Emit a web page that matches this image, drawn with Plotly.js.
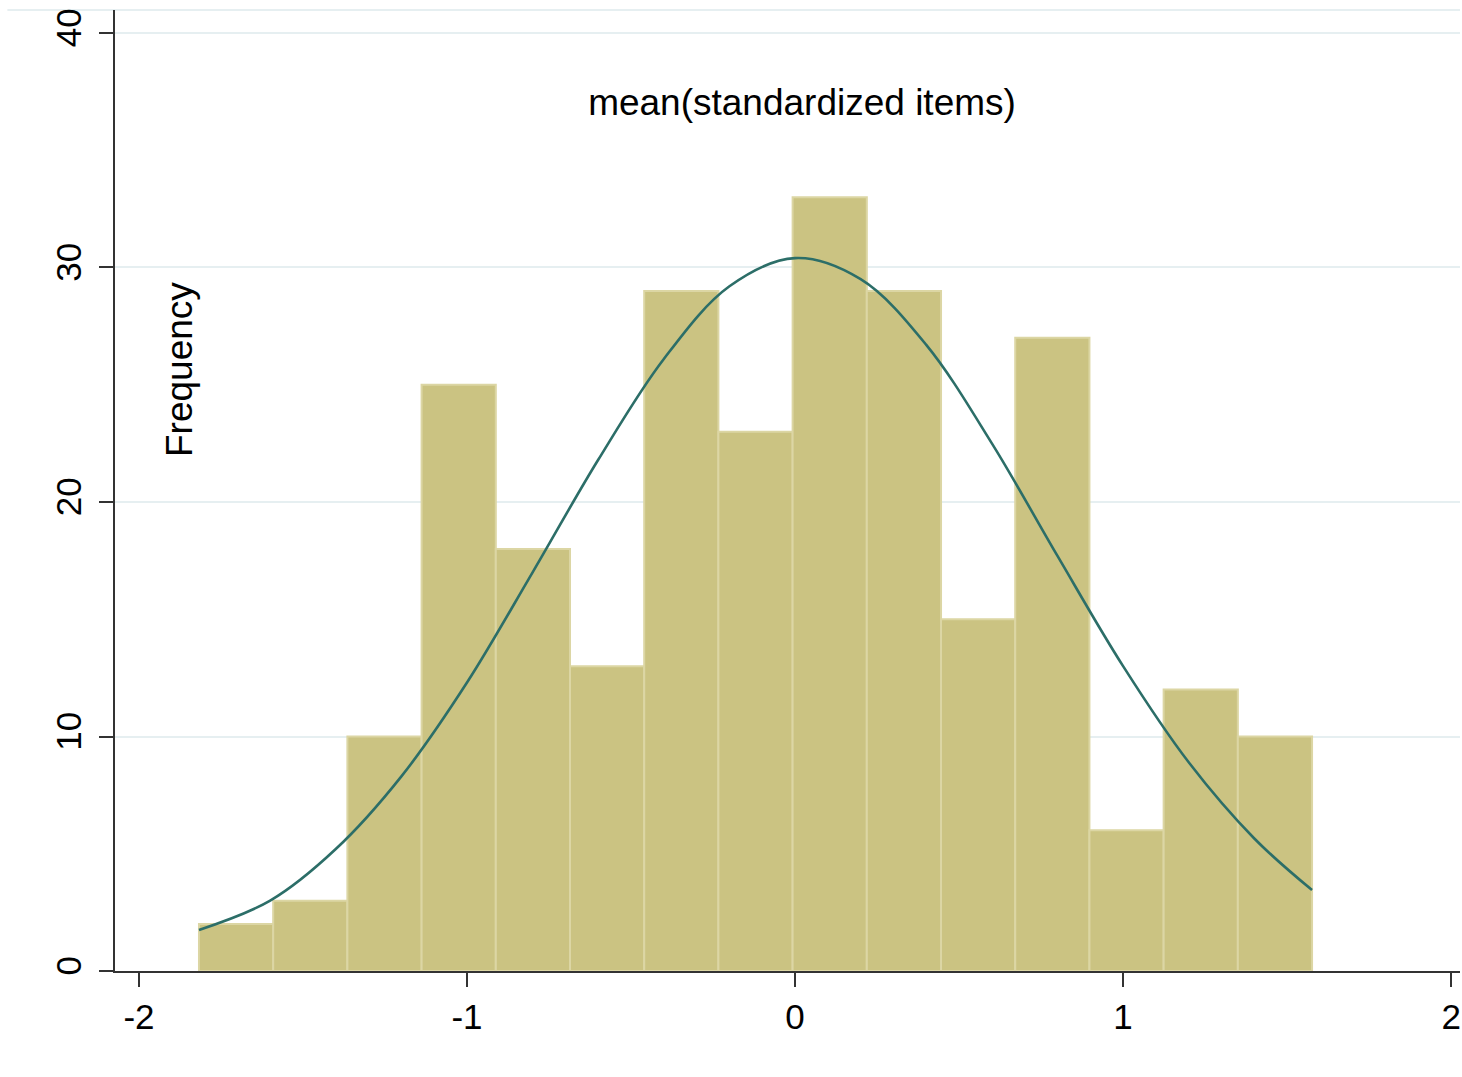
<!DOCTYPE html>
<html>
<head>
<meta charset="utf-8">
<script src="https://cdn.plot.ly/plotly-3.0.1.min.js"></script>
<style>
  html, body { margin: 0; padding: 0; background: #ffffff; }
  #chart { width: 1462px; height: 1077px; }
</style>
</head>
<body>
<div id="chart"></div>
<script>
// Histogram bins (left edge of first bin and common bin width) and counts
const binStart = -1.817;
const binWidth = 0.2262;
const counts = [2, 3, 10, 25, 18, 13, 29, 23, 33, 29, 15, 27, 6, 12, 10];

// Normal density overlay (x, frequency)
const curveX = [-1.817, -1.6, -1.4, -1.2, -1.0, -0.8, -0.6, -0.4, -0.2, 0.0, 0.2, 0.4, 0.6, 0.8, 1.0, 1.2, 1.4, 1.576];
const curveY = [1.75, 3.0, 5.2, 8.3, 12.3, 17.0, 21.8, 26.1, 29.2, 30.4, 29.5, 26.7, 22.5, 17.7, 13.0, 8.9, 5.65, 3.45];

// Axis ticks
const xTicks = [-2, -1, 0, 1, 2];
const yTicks = [0, 10, 20, 30, 40];

const binCenters = counts.map((_, i) => binStart + (i + 0.5) * binWidth);

const FONT = '"Liberation Sans", Arial, sans-serif';

const bars = {
  type: 'bar',
  x: binCenters,
  y: counts,
  width: binWidth,
  marker: { color: '#cbc382', line: { color: '#dcd6a4', width: 2 } },
  hoverinfo: 'x+y',
  showlegend: false
};

const curve = {
  type: 'scatter',
  mode: 'lines',
  x: curveX,
  y: curveY,
  line: { color: '#2c6e68', width: 2.6, shape: 'spline', smoothing: 1 },
  showlegend: false
};

const layout = {
  width: 1462,
  height: 1077,
  margin: { l: 115, r: 2, t: 10, b: 106 },
  paper_bgcolor: '#ffffff',
  plot_bgcolor: '#ffffff',
  font: { family: FONT, color: '#000000' },
  title: {
    text: 'mean(standardized items)',
    font: { family: FONT, size: 37, color: '#000000' },
    x: 802 / 1462, xanchor: 'center', xref: 'container',
    y: 1 - 102 / 1077, yanchor: 'middle', yref: 'container'
  },
  bargap: 0,
  xaxis: {
    range: [-2.073, 2.027],
    tickmode: 'array',
    tickvals: xTicks,
    ticktext: xTicks.map(String),
    ticks: 'outside', ticklen: 14, tickwidth: 2, tickcolor: '#333333',
    showline: true, linecolor: '#333333', linewidth: 2,
    showgrid: false, zeroline: false,
    tickfont: { family: FONT, size: 35, color: '#000000' },
    fixedrange: true
  },
  yaxis: {
    range: [0, 40.98],
    tickmode: 'array',
    tickvals: yTicks,
    ticktext: yTicks.map(String),
    tickangle: -90,
    ticks: 'outside', ticklen: 14, tickwidth: 2, tickcolor: '#333333',
    ticklabelstandoff: 4,
    showline: true, linecolor: '#333333', linewidth: 2,
    showgrid: true, gridcolor: '#e6eff1', gridwidth: 2,
    zeroline: false,
    tickfont: { family: FONT, size: 35, color: '#000000' },
    fixedrange: true
  },
  shapes: [
    { type: 'line', xref: 'paper', yref: 'paper', x0: -0.08, x1: 1, y0: 1, y1: 1,
      line: { color: '#e6eff1', width: 2 }, layer: 'below' }
  ],
  annotations: [
    { text: 'Frequency', xref: 'paper', yref: 'paper',
      x: (179 - 115) / 1345, y: (971 - 370) / 961,
      xanchor: 'center', yanchor: 'middle', textangle: -90, showarrow: false,
      font: { family: FONT, size: 37, color: '#000000' } }
  ]
};

Plotly.newPlot('chart', [bars, curve], layout, { displayModeBar: false, staticPlot: true });
</script>
</body>
</html>
